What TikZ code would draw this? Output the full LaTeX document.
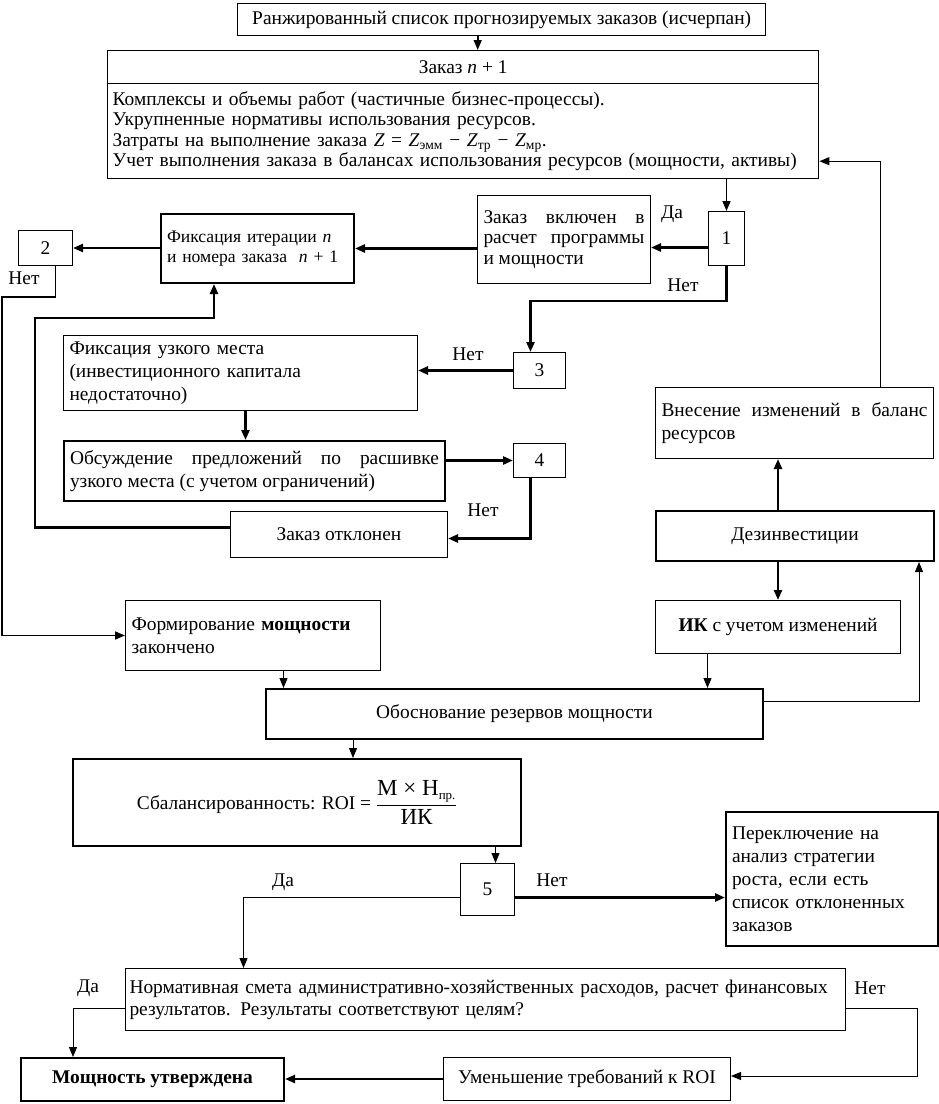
\documentclass[tikz,border=0pt]{standalone}
\usepackage{fontspec}
\setmainfont{Liberation Serif}
\usetikzlibrary{arrows.meta}
\newcommand\fs{\fontsize{19.4}{20.5}\selectfont}
\newcommand\fsw{\fontsize{19.4}{22.8}\selectfont}
\begin{document}
\begin{tikzpicture}[x=1pt,y=-1pt,
  bx/.style={draw, line width=1pt, anchor=north west, inner sep=0pt, font=\fs},
  tb/.style={line width=2pt},
  mb/.style={line width=1.4pt},
  lt/.style={align=left, inner xsep=6pt, text width=#1},
  js/.style={align=justify, inner xsep=6pt, text width=#1},
  arr/.style={-{Triangle[length=10pt,width=8pt]}, line width=1pt},
  tarr/.style={-{Triangle[length=10pt,width=8pt]}, line width=2.4pt},
  lab/.style={font=\fs, inner sep=0pt}
]
\useasboundingbox (0,0) rectangle (938,1104);

% nodes
\node[bx, mb, minimum width=528pt, minimum height=32pt] (top) at (237,3)
  {Ранжированный список прогнозируемых заказов (исчерпан)};
\node[bx, mb, minimum width=711pt, minimum height=33pt] (zh) at (107,50)
  {Заказ \textit{n} + 1};
\node[bx, mb, minimum width=711pt, minimum height=95pt, align=left, inner xsep=5pt, text width=701pt] (zb) at (107,83)
  {Комплексы и объемы работ (частичные бизнес-процессы).\\
   Укрупненные нормативы использования ресурсов.\\
   Затраты на выполнение заказа \textit{Z} = \textit{Z}\textsubscript{эмм} − \textit{Z}\textsubscript{тр} − \textit{Z}\textsubscript{мр}.\\
   Учет выполнения заказа в балансах использования ресурсов (мощности, активы)};
\node[bx, minimum width=36pt, minimum height=54pt] (one) at (708,211) {1};
\node[bx, minimum width=173pt, minimum height=88pt, js=161pt] (vkl) at (477,195)
  {Заказ включен в\linebreak расчет программы\linebreak и мощности};
\node[bx, tb, minimum width=193pt, minimum height=69pt, lt=181pt, font=\fontsize{17.6}{20.5}\selectfont] (fix) at (160,213)
  {Фиксация итерации \textit{n}\\и номера заказа \ \textit{n} + 1};
\node[bx, minimum width=54pt, minimum height=35pt] (two) at (18,230) {2};
\node[bx, minimum width=354pt, minimum height=75pt, lt=342pt, font=\fsw] (uzk) at (63,335)
  {Фиксация узкого места\\(инвестиционного капитала\\недостаточно)};
\node[bx, minimum width=52pt, minimum height=36pt] (three) at (513,352) {3};
\node[bx, tb, minimum width=381pt, minimum height=60pt, js=369pt, font=\fsw] (obs) at (63,440)
  {Обсуждение предложений по расшивке\linebreak узкого места (с учетом ограничений)};
\node[bx, minimum width=52pt, minimum height=34pt] (four) at (513,443) {4};
\node[bx, minimum width=217pt, minimum height=46pt] (otk) at (230,511) {Заказ отклонен};
\node[bx, minimum width=278pt, minimum height=71pt, js=266pt, font=\fsw] (vnes) at (655,387)
  {Внесение изменений в баланс\linebreak ресурсов};
\node[bx, tb, minimum width=278pt, minimum height=50pt] (dez) at (655,510) {Дезинвестиции};
\node[bx, minimum width=245pt, minimum height=53pt] (ik) at (655,600)
  {\textbf{ИК} с учетом изменений};
\node[bx, minimum width=255pt, minimum height=70pt, lt=243pt, font=\fsw] (form) at (125,600)
  {Формирование \textbf{мощности}\\закончено};
\node[bx, tb, minimum width=497pt, minimum height=50pt] (obos) at (265,688)
  {Обоснование резервов мощности};
\node[bx, tb, minimum width=448pt, minimum height=87pt] (roi) at (72,758)
  {Сбалансированность: ROI = $\displaystyle\frac{\mbox{\fontsize{23}{24}\selectfont М × Н}_{\mbox{\fontsize{13}{14}\selectfont пр.}}}{\mbox{\fontsize{23}{24}\selectfont ИК}}$};
\node[bx, minimum width=54pt, minimum height=52pt] (five) at (460,863) {5};
\node[bx, tb, minimum width=212pt, minimum height=134pt, lt=200pt, font=\fontsize{19.4}{23}\selectfont] (per) at (725,811)
  {Переключение на\\анализ стратегии\\роста, если есть\\список отклоненных\\заказов};
\node[bx, minimum width=720pt, minimum height=62pt, align=left, inner xsep=4pt, text width=712pt, font=\fontsize{19.4}{22}\selectfont] (norm) at (125,968)
  {Нормативная смета административно-хозяйственных расходов, расчет финансовых\\результатов. Результаты соответствуют целям?};
\node[bx, minimum width=287pt, minimum height=43pt] (umen) at (443,1057)
  {Уменьшение требований к ROI};
\node[bx, tb, minimum width=263pt, minimum height=43pt] (mosh) at (20,1057)
  {\textbf{Мощность утверждена}};

% labels
\node[lab] (l1) at (672,214) {Да};
\node[lab] (l2) at (683,285) {Нет};
\node[lab] (l3) at (24,278) {Нет};
\node[lab] (l4) at (468,354) {Нет};
\node[lab] (l5) at (483,510) {Нет};
\node[lab] (l6) at (552,880) {Нет};
\node[lab] (l7) at (283,882) {Да};
\node[lab] (l8) at (88,988) {Да};
\node[lab] (l9) at (870,988) {Нет};

% bend coordinates
\coordinate (c2) at (2,297);
\coordinate (c3) at (35,318);
\coordinate (c4) at (917,1076);

% connectors
\draw[arr, line width=1.6pt] ([xshift=-24pt]top.south) -- ([xshift=-24pt]top.south |- zh.north);
\draw[arr, line width=1.6pt] (one.north |- zb.south) -- (one.north);
\draw[arr, line width=1.3pt] ([xshift=86pt]vnes.north) |- ([yshift=-30pt]zb.east);
\coordinate (p1) at ([yshift=-9pt]one.west);
\draw[tarr] (p1) -- (p1 -| vkl.east);
\draw[tarr] (vkl.west |- fix.east) -- (fix.east);
\draw[tarr] (fix.west |- two.east) -- (two.east);
\draw[arr, line width=1.6pt] ([xshift=10pt]two.south) |- (c2) |- (form.west);
\draw[tarr] ([yshift=7pt]otk.west) -| (c3) -| ([xshift=-43.5pt]fix.south);
\draw[tarr] (one.south) -- ++(0,35) -| ([xshift=-9pt]three.north);
\draw[tarr] (three.west) -- (three.west -| uzk.east);
\draw[tarr] ([xshift=5pt]uzk.south) -- ([xshift=5pt]uzk.south |- obs.north);
\draw[tarr] (obs.east |- four.west) -- (four.west);
\draw[tarr] ([xshift=-9pt]four.south) |- ([yshift=-4pt]otk.east);
\draw[tarr] ([xshift=-17pt]dez.north) -- ([xshift=-17pt]dez.north |- vnes.south);
\draw[tarr] (ik.north |- dez.south) -- (ik.north);
\draw[arr] ([xshift=30.5pt]form.south) -- ([xshift=30.5pt]form.south |- obos.north);
\draw[arr] ([xshift=-70.5pt]ik.south) -- ([xshift=-70.5pt]ik.south |- obos.north);
\draw[arr] ([yshift=13pt]obos.east) -| ([xshift=124pt]dez.south);
\draw[arr] ([xshift=-161.5pt]obos.south) -- ([xshift=-161.5pt]obos.south |- roi.north);
\draw[arr] ([xshift=8pt]five.north |- roi.south) -- ([xshift=8pt]five.north);
\coordinate (p5) at ([yshift=-8pt]five.east);
\draw[tarr] (p5) -- (p5 -| per.west);
\draw[arr] ([yshift=-8pt]five.west) -| ([xshift=-242pt]norm.north);
\draw[arr] ([yshift=-9pt]norm.west) -| ([xshift=-79.5pt]mosh.north);
\draw[arr] ([yshift=-9pt]norm.east) -| (c4) -- (c4 -| umen.east);
\draw[tarr] (umen.west) -- (umen.west -| mosh.east);
\end{tikzpicture}
\end{document}
